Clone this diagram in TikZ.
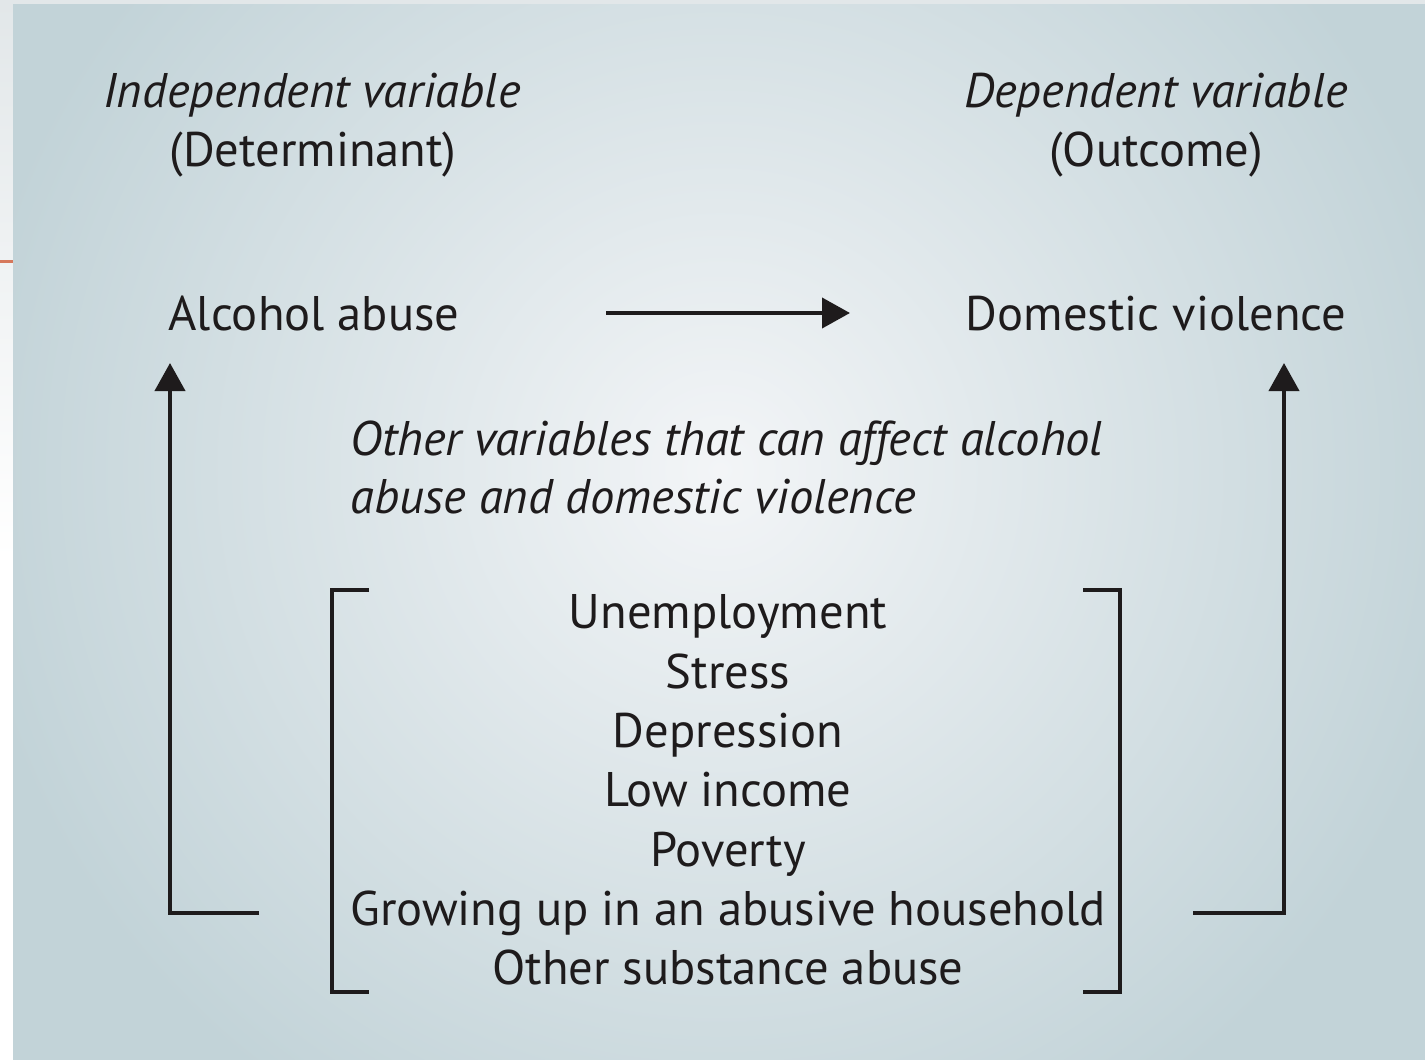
\documentclass[tikz,border=0pt]{standalone}
\usepackage{fontspec}
\setmainfont{PT Sans}
\usetikzlibrary{arrows.meta}
\definecolor{ink}{RGB}{30,27,28}
\definecolor{bgin}{RGB}{243,245,247}
\definecolor{bgout}{RGB}{194,211,216}
\definecolor{stripc}{RGB}{226,231,233}
\definecolor{orangec}{RGB}{214,120,92}
\begin{document}
\begin{tikzpicture}[x=0.5pt,y=-0.5pt,
  lbl/.style={anchor=base, inner sep=0pt, text=ink, font=\fontsize{24.3}{29}\selectfont},
  ilbl/.style={lbl, font=\fontsize{24.3}{29}\selectfont\itshape},
  conn/.style={draw=ink, line width=2pt},
  arr/.style={conn, -{Triangle[length=14pt,width=15pt]}},
]
\useasboundingbox (0,0) rectangle (1425,1060);
% page margins
\fill[white] (0,0) rectangle (1425,1060);
\shade[top color=stripc, bottom color=white] (0,0) rectangle (13,560);
\fill[stripc] (0,0) rectangle (1425,4);
\fill[orangec] (0,259.5) rectangle (13,262.5);
% panel
\fill[bgout] (13,4) rectangle (1425,1060);
\begin{scope}
  \clip (13,4) rectangle (1425,1060);
  \shade[inner color=bgin, outer color=bgout] (720,470) circle (760);
\end{scope}
% headings
\node[ilbl] (indep) at (312,107) {Independent variable};
\node[lbl]  (determ) at (313,166) {(Determinant)};
\node[ilbl] (dep) at (1156,107) {Dependent variable};
\node[lbl]  (outc) at (1156,166) {(Outcome)};
% main variables
\node[lbl] (alc) at (314,330) {Alcohol abuse};
\node[lbl] (dv) at (1156,330) {Domestic violence};
% other variables
\node[ilbl, anchor=base west] (oth1) at (350,455) {Other variables that can affect alcohol};
\node[ilbl, anchor=base west] (oth2) at (350,513) {abuse and domestic violence};
% list
\node[lbl] (l1) at (728,628) {Unemployment};
\node[lbl] (l2) at (728,688) {Stress};
\node[lbl] (l3) at (728,747) {Depression};
\node[lbl] (l4) at (728,806) {Low income};
\node[lbl] (l5) at (728,866) {Poverty};
\node[lbl] (l6) at (728,925) {Growing up in an abusive household};
\node[lbl] (l7) at (728,984) {Other substance abuse};
% connector end points
\coordinate (hs) at (606,313);
\coordinate (he) at (850,313);
\coordinate (ls) at (259,913);
\coordinate (lc) at (170,913);
\coordinate (le) at (170,363);
\coordinate (rs) at (1193,913);
\coordinate (rc) at (1284,913);
\coordinate (re) at (1284,363);
\coordinate (b1a) at (369,590);
\coordinate (b1b) at (332,590);
\coordinate (b1c) at (332,992);
\coordinate (b1d) at (369,992);
\coordinate (b2a) at (1083,590);
\coordinate (b2b) at (1120,590);
\coordinate (b2c) at (1120,992);
\coordinate (b2d) at (1083,992);
% arrows
\draw[arr] (hs) -- (he);
\draw[arr] (ls) -- (lc) -- (le);
\draw[arr] (rs) -- (rc) -- (re);
% brackets
\draw[conn] (b1a) -- (b1b) -- (b1c) -- (b1d);
\draw[conn] (b2a) -- (b2b) -- (b2c) -- (b2d);
\end{tikzpicture}
\end{document}
